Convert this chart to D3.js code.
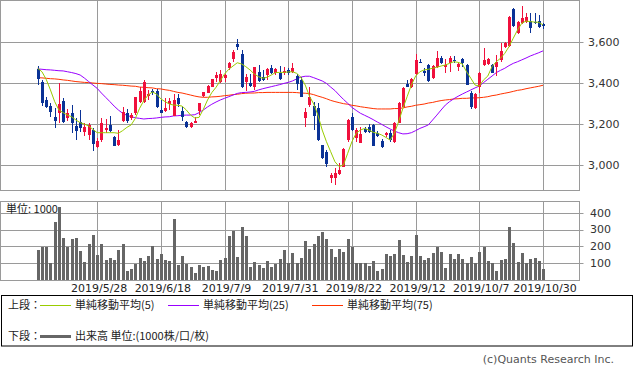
<!DOCTYPE html>
<html>
<head>
<meta charset="utf-8">
<script src="https://cdn.jsdelivr.net/npm/d3@7"></script>
<style>
  body { margin: 0; background: #fff; }
  svg { display: block; }
  text { font-family: "DejaVu Sans", sans-serif; }
  .jp { font-family: "Noto Sans CJK JP", sans-serif; }
</style>
</head>
<body>
<svg id="chart"></svg>
<script>
const width = 633, height = 371;

// trading days shown (2019)
const dates = [
  "5/8","5/9","5/10","5/13","5/14","5/15","5/16","5/17","5/20","5/21","5/22","5/23","5/24","5/27","5/28","5/29","5/30","5/31",
  "6/3","6/4","6/5","6/6","6/7","6/10","6/11","6/12","6/13","6/14","6/17","6/18","6/19","6/20","6/21","6/24","6/25","6/26","6/27","6/28",
  "7/1","7/2","7/3","7/4","7/5","7/8","7/9","7/10","7/11","7/12","7/16","7/17","7/18","7/19","7/22","7/23","7/24","7/25","7/26","7/29","7/30","7/31",
  "8/1","8/2","8/5","8/6","8/7","8/8","8/9","8/13","8/14","8/15","8/16","8/19","8/20","8/21","8/22","8/23","8/26","8/27","8/28","8/29","8/30",
  "9/2","9/3","9/4","9/5","9/6","9/9","9/10","9/11","9/12","9/13","9/17","9/18","9/19","9/20","9/24","9/25","9/26","9/27","9/30",
  "10/1","10/2","10/3","10/4","10/7","10/8","10/9","10/10","10/11","10/15","10/16","10/17","10/18","10/21","10/23","10/24","10/25","10/28","10/29","10/30"
];
const tickDates = ["5/28","6/18","7/9","7/31","8/22","9/12","10/7","10/30"];
const priceTicks = [3000, 3200, 3400, 3600];
const volumeTicks = [100, 200, 300, 400];

const open = [3470,3408,3318,3289,3236,3256,3313,3228,3253,3191,3212,3163,3147,3171,3086,3122,3171,3196,3139,3098,
  3217,3256,3228,3253,3310,3310,3337,3364,3364,3269,3266,3298,3241,3326,3264,3212,3187,3207,3266,3337,
  3354,3383,3424,3408,3424,3473,3517,3592,3543,3408,3399,3380,3455,3429,3440,3473,3452,3448,3448,3465,
  3456,3435,3416,3228,3293,3289,3280,3098,3065,2935,2935,2956,2992,3122,3233,3130,3109,3174,3187,3196,
  3158,3119,3147,3158,3114,3207,3285,3396,3380,3445,3505,3460,3489,3424,3481,3525,3481,3500,3514,3481,
  3517,3489,3354,3277,3380,3489,3494,3489,3481,3514,3575,3582,3761,3644,3696,3701,3706,3701,3703,3688];
const high = [3484,3416,3334,3305,3277,3403,3326,3272,3293,3228,3269,3207,3207,3179,3130,3228,3227,3240,3142,3171,
  3282,3272,3256,3334,3380,3416,3367,3370,3370,3318,3326,3326,3347,3347,3285,3217,3212,3236,3305,3359,
  3391,3419,3456,3465,3445,3505,3562,3615,3562,3445,3445,3481,3487,3465,3473,3489,3473,3484,3481,3473,
  3497,3445,3432,3277,3383,3310,3302,3100,3073,2959,2984,3011,3081,3223,3253,3179,3187,3187,3200,3200,
  3168,3125,3163,3171,3212,3310,3380,3416,3424,3543,3517,3473,3494,3489,3558,3533,3517,3533,3533,3505,
  3525,3494,3364,3351,3456,3571,3522,3494,3538,3595,3603,3729,3766,3706,3778,3742,3745,3742,3734,3693];
const low = [3391,3289,3277,3236,3179,3204,3204,3217,3155,3122,3163,3142,3122,3070,3081,3114,3155,3163,3093,3095,
  3212,3204,3220,3245,3302,3305,3318,3342,3277,3253,3261,3269,3240,3285,3217,3179,3183,3204,3245,3331,
  3351,3380,3408,3399,3408,3465,3505,3562,3375,3364,3383,3367,3408,3412,3416,3445,3440,3416,3440,3440,
  3448,3367,3331,3187,3285,3171,3119,3028,2989,2910,2902,2951,2989,3114,3168,3114,3106,3155,3158,3095,
  3135,3081,3139,3114,3109,3204,3282,3380,3375,3440,3497,3435,3408,3419,3476,3494,3448,3456,3500,3461,
  3481,3391,3274,3274,3354,3484,3489,3448,3435,3505,3571,3579,3676,3641,3690,3696,3647,3690,3668,3664];
const close = [3420,3305,3285,3261,3217,3297,3212,3256,3207,3168,3183,3187,3196,3103,3119,3204,3183,3166,3095,3122,
  3261,3217,3245,3331,3364,3408,3347,3351,3282,3253,3280,3313,3318,3298,3233,3187,3207,3217,3302,3355,
  3386,3419,3440,3445,3440,3500,3554,3579,3380,3429,3386,3478,3412,3416,3468,3452,3468,3421,3461,3452,
  3473,3396,3334,3261,3334,3240,3122,3033,3003,2951,2959,2976,3077,3220,3171,3171,3152,3163,3163,3095,
  3142,3086,3158,3122,3207,3302,3375,3383,3419,3514,3500,3448,3412,3484,3525,3497,3489,3522,3509,3492,
  3497,3391,3282,3347,3452,3514,3517,3452,3505,3559,3595,3725,3680,3701,3717,3722,3668,3693,3673,3681];

// 出来高 (1000株)
const volume = [177,197,197,99,345,434,252,197,243,248,172,108,213,266,148,213,118,128,118,177,
  213,53,65,95,128,112,142,201,124,154,118,114,365,89,142,95,75,43,89,77,
  83,59,53,118,128,260,290,136,314,260,77,108,89,73,112,77,95,124,177,99,
  160,99,128,231,183,213,260,286,246,183,134,187,164,246,197,99,99,99,83,112,
  53,65,154,142,154,237,148,108,142,266,142,118,128,162,197,166,73,154,124,154,
  124,99,134,99,166,197,112,99,53,118,124,314,221,108,160,99,124,128,112,65];

// 単純移動平均
const ma5 = [3473,3456,3419,3367,3310,3269,3256,3244,3236,3220,3207,3200,3191,3174,3158,3158,3158,3158,3158,3155,
  3168,3184,3196,3228,3277,3315,3342,3357,3347,3323,3310,3298,3293,3292,3288,3269,3244,3230,3233,3272,
  3318,3354,3380,3412,3445,3468,3484,3500,3494,3481,3465,3445,3432,3424,3429,3440,3452,3453,3453,3455,
  3456,3448,3429,3391,3337,3298,3244,3171,3114,3065,3016,2992,3000,3057,3114,3155,3171,3179,3171,3160,
  3155,3147,3135,3122,3155,3212,3277,3334,3391,3435,3456,3465,3468,3473,3478,3484,3489,3497,3505,3502,
  3494,3456,3424,3391,3386,3416,3435,3481,3505,3522,3546,3579,3620,3660,3693,3704,3701,3699,3698,3685];
const ma25 = [3470,3468,3466,3465,3463,3461,3460,3456,3452,3447,3440,3425,3408,3391,3375,3352,3331,3310,3288,3269,
  3253,3243,3236,3231,3228,3225,3227,3228,3230,3233,3235,3236,3240,3241,3243,3244,3244,3246,3256,3269,
  3284,3297,3308,3318,3326,3334,3342,3350,3354,3355,3357,3360,3367,3373,3378,3383,3388,3393,3399,3404,
  3411,3421,3430,3434,3434,3427,3419,3411,3399,3381,3364,3342,3321,3302,3282,3267,3253,3243,3233,3222,
  3210,3199,3187,3176,3166,3158,3152,3153,3158,3168,3179,3187,3196,3220,3244,3269,3293,3310,3324,3336,
  3347,3357,3367,3377,3386,3403,3419,3435,3452,3463,3473,3486,3497,3505,3514,3523,3533,3541,3549,3558];
const ma75 = [3427,3426,3424,3422,3421,3419,3416,3414,3411,3408,3406,3404,3403,3401,3399,3398,3396,3394,3393,3391,
  3390,3388,3386,3385,3381,3380,3378,3377,3373,3372,3368,3365,3360,3355,3352,3347,3342,3337,3333,3331,
  3331,3333,3334,3336,3339,3341,3344,3346,3349,3351,3352,3352,3354,3354,3355,3355,3355,3355,3355,3355,
  3355,3354,3352,3351,3349,3344,3337,3331,3324,3316,3310,3305,3300,3297,3292,3289,3285,3282,3279,3276,
  3274,3274,3274,3274,3276,3276,3279,3284,3287,3292,3295,3298,3303,3306,3311,3315,3318,3320,3323,3324,
  3326,3326,3328,3328,3329,3331,3334,3339,3342,3347,3351,3355,3360,3365,3368,3373,3377,3381,3385,3390];

const candles = dates.map((d, i) => ({ d, o: open[i], h: high[i], l: low[i], c: close[i], v: volume[i] }));

const svg = d3.select("#chart").attr("width", width).attr("height", height);

const panel = { left: 0.5, right: 579.5 };
const pricePanel = { y0: 0.5, y1: 190.5 };
const volPanel = { y0: 201.5, y1: 280.5 };
const gridColor = "#9a9a9a";
const upColor = "#f0103c", downColor = "#0a3296";

const x = d3.scalePoint().domain(dates).range([37.7, 543]);
const y = d3.scaleLinear().domain([3000, 3600]).range([165, 42.3]);
const yv = d3.scaleLinear().domain([0, 400]).range([280, 212.7]);

// grid - price panel
const g1 = svg.append("g");
g1.selectAll(".hg").data(priceTicks).join("line")
  .attr("x1", panel.left).attr("x2", panel.right + 4)
  .attr("y1", d => Math.round(y(d)) + 0.5).attr("y2", d => Math.round(y(d)) + 0.5)
  .attr("stroke", gridColor);
g1.selectAll(".vg").data(tickDates).join("line")
  .attr("x1", d => Math.round(x(d)) + 0.5).attr("x2", d => Math.round(x(d)) + 0.5)
  .attr("y1", pricePanel.y0).attr("y2", pricePanel.y1)
  .attr("stroke", gridColor);
g1.append("rect")
  .attr("x", panel.left).attr("y", pricePanel.y0)
  .attr("width", panel.right - panel.left).attr("height", pricePanel.y1 - pricePanel.y0)
  .attr("fill", "none").attr("stroke", gridColor);
g1.selectAll("text").data(priceTicks).join("text")
  .attr("x", 588).attr("y", d => y(d)).attr("dy", "0.36em")
  .attr("font-size", 11).attr("fill", "#333")
  .text(d => d3.format(",")(d));

// grid - volume panel
const g2 = svg.append("g");
g2.selectAll(".hg").data(volumeTicks).join("line")
  .attr("x1", panel.left).attr("x2", panel.right + 4)
  .attr("y1", d => Math.round(yv(d)) + 0.5).attr("y2", d => Math.round(yv(d)) + 0.5)
  .attr("stroke", gridColor);
g2.selectAll(".vg").data(tickDates).join("line")
  .attr("x1", d => Math.round(x(d)) + 0.5).attr("x2", d => Math.round(x(d)) + 0.5)
  .attr("y1", volPanel.y0).attr("y2", volPanel.y1)
  .attr("stroke", gridColor);
g2.append("rect")
  .attr("x", panel.left).attr("y", volPanel.y0)
  .attr("width", panel.right - panel.left).attr("height", volPanel.y1 - volPanel.y0)
  .attr("fill", "none").attr("stroke", gridColor);
g2.selectAll("text").data(volumeTicks).join("text")
  .attr("x", 590).attr("y", d => yv(d)).attr("dy", "0.36em")
  .attr("font-size", 11).attr("fill", "#333")
  .text(d => d);

// volume bars
svg.append("g").attr("fill", "#666").attr("shape-rendering", "crispEdges")
  .selectAll("rect").data(candles).join("rect")
  .attr("x", d => Math.round(x(d.d)) - 1)
  .attr("width", 3)
  .attr("y", d => yv(d.v))
  .attr("height", d => yv(0) - yv(d.v));

svg.append("text").attr("class", "jp")
  .attr("x", 6).attr("y", 209).attr("dy", "0.36em")
  .attr("font-size", 11).attr("fill", "#222")
  .text("単位: 1000");

// moving averages
const line = arr => d3.line().x((d, i) => x(dates[i])).y(d => y(d))(arr);
svg.append("path").attr("d", line(ma75)).attr("fill", "none").attr("stroke", "#ff3300").attr("stroke-width", 1);
svg.append("path").attr("d", line(ma25)).attr("fill", "none").attr("stroke", "#9900ff").attr("stroke-width", 1);

// candles
const cg = svg.append("g").attr("shape-rendering", "crispEdges");
cg.selectAll("line").data(candles).join("line")
  .attr("x1", d => Math.round(x(d.d)) + 0.5).attr("x2", d => Math.round(x(d.d)) + 0.5)
  .attr("y1", d => y(d.h)).attr("y2", d => y(d.l))
  .attr("stroke", d => d.c >= d.o ? upColor : downColor);
cg.selectAll("rect").data(candles).join("rect")
  .attr("x", d => Math.round(x(d.d)) - 1)
  .attr("width", 3)
  .attr("y", d => y(Math.max(d.o, d.c)))
  .attr("height", d => Math.max(1, Math.abs(y(d.o) - y(d.c))))
  .attr("fill", d => d.c >= d.o ? upColor : downColor);

svg.append("path").attr("d", line(ma5)).attr("fill", "none").attr("stroke", "#99cc00").attr("stroke-width", 1);

// date labels
svg.append("g").selectAll("text").data(tickDates).join("text")
  .attr("x", d => x(d) + 2).attr("y", 288).attr("dy", "0.36em")
  .attr("text-anchor", "middle").attr("font-size", 11).attr("fill", "#222")
  .text(d => "2019/" + d);

// legend
const lg = svg.append("g");
lg.append("rect").attr("x", 1.5).attr("y", 295.5).attr("width", 631).attr("height", 50.5)
  .attr("fill", "none").attr("stroke", "#000");
const legendItems = [
  { label: "単純移動平均(5)", color: "#99cc00", x: 40 },
  { label: "単純移動平均(25)", color: "#9900ff", x: 168 },
  { label: "単純移動平均(75)", color: "#ff3300", x: 312 }
];
lg.append("text").attr("class", "jp").attr("x", 8).attr("y", 305).attr("dy", "0.36em")
  .attr("font-size", 11).attr("fill", "#222").text("上段：");
legendItems.forEach(it => {
  lg.append("line").attr("x1", it.x).attr("x2", it.x + 31).attr("y1", 305.5).attr("y2", 305.5)
    .attr("stroke", it.color);
  lg.append("text").attr("class", "jp").attr("x", it.x + 35).attr("y", 305).attr("dy", "0.36em")
    .attr("font-size", 11).attr("fill", "#222").text(it.label);
});
lg.append("text").attr("class", "jp").attr("x", 8).attr("y", 336).attr("dy", "0.36em")
  .attr("font-size", 11).attr("fill", "#222").text("下段：");
lg.append("line").attr("x1", 40).attr("x2", 71).attr("y1", 336.5).attr("y2", 336.5)
  .attr("stroke", "#666").attr("stroke-width", 3);
lg.append("text").attr("class", "jp").attr("x", 75).attr("y", 336).attr("dy", "0.36em")
  .attr("font-size", 11).attr("fill", "#222").text("出来高 単位:(1000株/口/枚)");

svg.append("text").attr("x", 614).attr("y", 359).attr("dy", "0.36em")
  .attr("text-anchor", "end").attr("font-size", 11).attr("fill", "#555")
  .text("(c)Quants Research Inc.");
</script>
</body>
</html>
